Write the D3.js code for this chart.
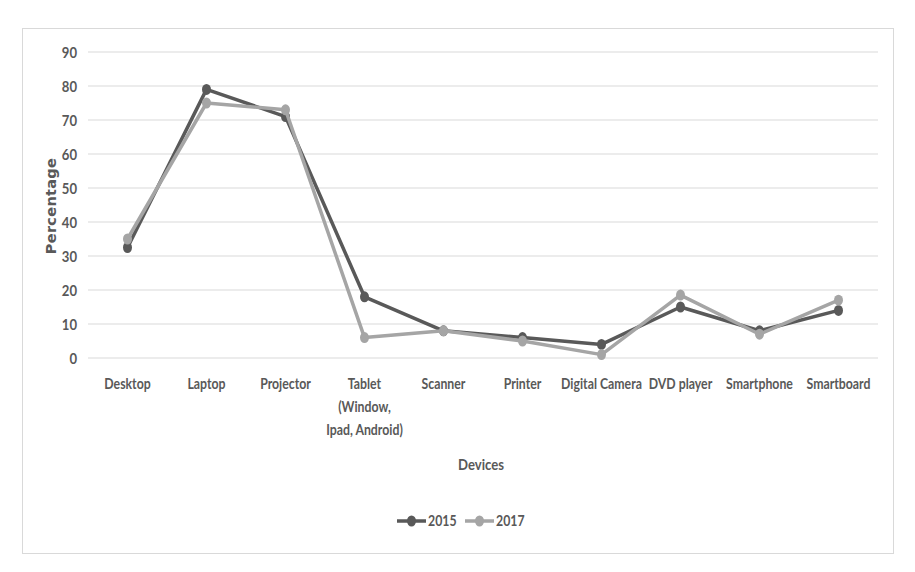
<!DOCTYPE html>
<html><head><meta charset="utf-8">
<script src="https://cdn.jsdelivr.net/npm/d3@7"></script>
<style>
body{margin:0;background:#fff;}
text{font-family:Lato,"Liberation Sans",sans-serif;}
</style></head>
<body><svg id="c" width="915" height="572"></svg>
<script>
const categories = ["Desktop","Laptop","Projector","Tablet (Window, Ipad, Android)","Scanner","Printer","Digital Camera","DVD player","Smartphone","Smartboard"];
const values2015 = [32.5,79,71,18,8,6,4,15,8,14];
const values2017 = [35,75,73,6,8,5,1,18.5,7,17];
const yTicks = [0,10,20,30,40,50,60,70,80,90];
const seriesNames = ["2015","2017"];
const seriesColors = ["#595959","#a5a5a5"];

const SX = 0.82;
const svg = d3.select("#c");
svg.append("rect").attr("x",22.5).attr("y",28.5).attr("width",871).attr("height",525)
  .attr("fill","#fff").attr("stroke","#d9d9d9");

const x = d3.scaleBand().domain(categories).range([88,878]);
const y = d3.scaleLinear().domain([0,90]).range([358,52]);

svg.append("g").selectAll("line").data(yTicks).join("line")
  .attr("x1",88).attr("x2",878).attr("y1",d=>y(d)).attr("y2",d=>y(d))
  .attr("stroke","#d9d9d9").attr("stroke-width",1);

const ya = svg.append("g").attr("transform","translate(88,0)")
  .call(d3.axisLeft(y).tickValues(yTicks).tickSize(0).tickPadding(12));
ya.select(".domain").remove();
ya.selectAll(".tick text").attr("font-size",16).attr("fill","#595959").attr("font-weight","bold")
  .attr("x",-11/SX).attr("transform",`scale(${SX},1)`)
  .style("font-family","Lato,sans-serif");

const xa = svg.append("g").attr("transform","translate(0,358)")
  .call(d3.axisBottom(x).tickSize(0).tickFormat(""));
xa.select(".domain").remove();
xa.selectAll(".tick text").remove();
const lines = {"Tablet (Window, Ipad, Android)":["Tablet","(Window,","Ipad, Android)"]};
xa.selectAll(".tick").each(function(d){
  const t = d3.select(this).append("text").attr("y",31).attr("text-anchor","middle")
    .attr("transform",`scale(${SX},1)`)
    .attr("font-size",15).attr("fill","#595959").attr("font-weight","bold");
  const ls = lines[d] || [d];
  ls.forEach((s,i)=>t.append("tspan").attr("x",0).attr("dy",i===0?0:23).text(s));
});

svg.append("text").attr("transform","translate(56,206) rotate(-90)").attr("text-anchor","middle")
  .attr("font-size",14.5).attr("font-weight","bold").attr("fill","#595959")
  .style("font-family","'DejaVu Sans',sans-serif").style("letter-spacing","0.3px").text("Percentage");
svg.append("text").attr("transform",`translate(481,470) scale(${SX},1)`).attr("text-anchor","middle")
  .attr("font-size",16).attr("font-weight","bold").attr("fill","#595959").text("Devices");

const cx = (d,i)=>x(categories[i])+x.bandwidth()/2;
const line = d3.line().x(cx).y(d=>y(d));
[values2015, values2017].forEach((vals,k)=>{
  const g = svg.append("g");
  g.append("path").datum(vals).attr("d",line).attr("fill","none")
    .attr("stroke",seriesColors[k]).attr("stroke-width",3.5).attr("stroke-linejoin","round");
  g.selectAll("ellipse").data(vals).join("ellipse")
    .attr("cx",cx).attr("cy",d=>y(d)).attr("rx",4.5).attr("ry",5.5)
    .attr("fill",seriesColors[k]);
});

const lg = svg.append("g");
const legX = [397,465];
seriesNames.forEach((n,k)=>{
  lg.append("line").attr("x1",legX[k]).attr("x2",legX[k]+29).attr("y1",521).attr("y2",521)
    .attr("stroke",seriesColors[k]).attr("stroke-width",3.5);
  lg.append("ellipse").attr("cx",legX[k]+14.5).attr("cy",521).attr("rx",4.5).attr("ry",5.5).attr("fill",seriesColors[k]);
  lg.append("text").attr("transform",`translate(${legX[k]+31},526) scale(${SX},1)`)
    .attr("font-size",15).attr("font-weight","bold").attr("fill","#595959").text(n);
});
</script></body></html>
